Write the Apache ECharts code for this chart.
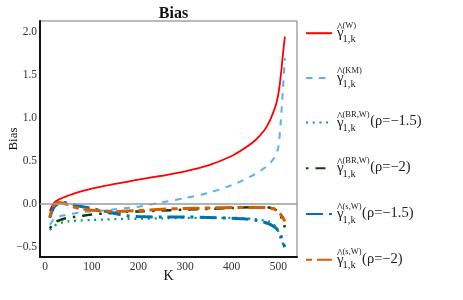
<!DOCTYPE html>
<html>
<head>
<meta charset="utf-8">
<script src="https://cdn.jsdelivr.net/npm/echarts@6/dist/echarts.min.js"></script>
<style>html,body{margin:0;padding:0;background:#fff;}#c{width:463px;height:300px;}</style>
</head>
<body>
<div id="c"></div>
<script>
// ---- data ----
var K = [10,15,20,25,30,40,50,60,75,100,125,150,175,200,250,300,350,400,425,450,470,480,490,495,500,505,510,514];
var biasW      = [-0.08,-0.02,0.02,0.04,0.055,0.08,0.10,0.12,0.145,0.18,0.21,0.235,0.26,0.285,0.33,0.38,0.45,0.56,0.64,0.74,0.86,0.95,1.08,1.16,1.28,1.48,1.75,1.95];
var biasKM     = [-0.24,-0.20,-0.17,-0.155,-0.145,-0.13,-0.12,-0.11,-0.095,-0.085,-0.075,-0.06,-0.045,-0.03,0.02,0.07,0.13,0.22,0.28,0.35,0.42,0.46,0.53,0.58,0.66,0.95,1.35,1.70];
var biasBR15   = [-0.30,-0.27,-0.25,-0.235,-0.225,-0.21,-0.20,-0.195,-0.19,-0.185,-0.18,-0.175,-0.17,-0.17,-0.165,-0.16,-0.16,-0.16,-0.165,-0.175,-0.19,-0.20,-0.235,-0.27,-0.32,-0.40,-0.46,-0.50];
var biasBR2    = [-0.28,-0.25,-0.22,-0.20,-0.19,-0.17,-0.16,-0.15,-0.14,-0.12,-0.11,-0.10,-0.09,-0.085,-0.075,-0.065,-0.055,-0.045,-0.04,-0.035,-0.035,-0.04,-0.05,-0.07,-0.10,-0.14,-0.20,-0.27];
var biasS15    = [-0.16,-0.08,-0.03,-0.005,0.01,0.02,0.01,-0.005,-0.025,-0.05,-0.08,-0.11,-0.135,-0.145,-0.15,-0.15,-0.155,-0.165,-0.17,-0.185,-0.21,-0.23,-0.26,-0.28,-0.31,-0.36,-0.45,-0.50];
var biasS2     = [-0.15,-0.06,-0.01,0.015,0.02,0.01,-0.01,-0.03,-0.05,-0.07,-0.08,-0.085,-0.08,-0.075,-0.06,-0.05,-0.045,-0.04,-0.04,-0.04,-0.04,-0.045,-0.055,-0.07,-0.09,-0.12,-0.16,-0.20];
var xTicks = [0,100,200,300,400,500];
var yTicks = [-0.5,0,0.5,1,1.5,2];
var seriesNames = ['W','KM','BRW15','BRW2','sW15','sW2'];
var supTexts = ['(W)','(KM)','(BR,W)','(BR,W)','(s,W)','(s,W)'];
var rhoTexts = ['','','(\u03C1=\u22121.5)','(\u03C1=\u22122)','(\u03C1=\u22121.5)','(\u03C1=\u22122)'];

function pairs(vals){ return K.map(function(k,i){ return [k, vals[i]]; }); }

var serif = '"Liberation Serif", "DejaVu Serif", serif';
var cv = document.createElement('canvas').getContext('2d');
function tw(t, size){ cv.font = size + 'px ' + serif; return cv.measureText(t).width; }

var TC = '#222';
var L1 = 8, L2 = 14;
var rich = {
  h:  {fontSize: 12, width: 5.5, lineHeight: L1, padding: [2.4, 0, 0, 0], fontFamily: serif, color: TC},
  sp: {fontSize: 8.5, lineHeight: L1, padding: [0, 0, 1, 0], fontFamily: serif, color: TC},
  g:  {fontSize: 15, width: 5.5, lineHeight: L2, padding: [0, 0, 8, 0], fontFamily: serif, color: TC},
  r:  {fontSize: 14.5, lineHeight: L2, padding: [0, 0, 10, 0], fontFamily: serif, color: TC}
};
supTexts.forEach(function(s, i){
  var w = Math.max(tw(s, 8.5), tw('1,k', 10.5)) + 0.5;
  rich['sb' + i] = {fontSize: 10.5, width: w, lineHeight: L2, padding: [4, 0, 0, 0], fontFamily: serif, color: TC};
});

var chart = echarts.init(document.getElementById('c'), null, {renderer: 'canvas'});
function mk(name, vals, color, width, dash){
  return {
    name: name, type: 'line', data: pairs(vals), smooth: 0.3,
    symbol: 'none', showSymbol: false,
    lineStyle: {color: color, width: width, type: dash, cap: 'butt'},
    itemStyle: {color: color},
    emphasis: {disabled: true}
  };
}
var s0 = mk('W', biasW, '#FF0000', 1.8, 'solid');
s0.markLine = {silent: true, symbol: 'none', label: {show: false},
  lineStyle: {color: '#9a9a9a', width: 1.5, type: 'solid'}, data: [{yAxis: 0}]};

var option = {
  animation: false,
  backgroundColor: '#fff',
  title: {text: 'Bias', left: 168.5, top: 1, textAlign: 'center',
    textStyle: {fontFamily: serif, fontSize: 16, fontWeight: 'bold', color: '#111'}},
  grid: {left: 40, top: 21, right: 166, bottom: 43, outerBoundsMode: 'none', containLabel: false,
    show: true, borderColor: '#777', borderWidth: 1, backgroundColor: 'transparent'},
  xAxis: {type: 'value', min: -11, max: 540,
    name: 'K', nameLocation: 'middle', nameGap: 12, nameMoveOverlap: false,
    nameTextStyle: {fontFamily: serif, fontSize: 14, color: '#111'},
    axisLine: {show: true, onZero: false, lineStyle: {color: '#111', width: 2}},
    axisTick: {show: false},
    splitLine: {show: false},
    axisLabel: {customValues: xTicks, margin: 4, fontFamily: serif, fontSize: 11.5, color: '#333',
      formatter: function(v){ return String(v); }}
  },
  yAxis: {type: 'value', min: -0.615, max: 2.13,
    name: 'Bias', nameLocation: 'middle', nameGap: 20, nameRotate: 90, nameMoveOverlap: false,
    nameTextStyle: {fontFamily: serif, fontSize: 13, color: '#111'},
    axisLine: {show: true, onZero: false, lineStyle: {color: '#111', width: 2}},
    axisTick: {show: false},
    splitLine: {show: false},
    axisLabel: {customValues: yTicks, margin: 3, fontFamily: serif, fontSize: 11.5, color: '#333',
      formatter: function(v){ return (v < 0 ? '\u2212' : '') + Math.abs(v).toFixed(1); }}
  },
  legend: {
    orient: 'vertical', left: 305, top: 19, height: 400, padding: 0,
    itemWidth: 26, itemHeight: 14, itemGap: 15,
    data: seriesNames, selectedMode: false,
    itemStyle: {opacity: 0},
    textStyle: {fontFamily: serif, color: TC, rich: rich},
    formatter: function(name){
      var i = seriesNames.indexOf(name);
      return '{h|^}{sp|' + supTexts[i] + '}\n{g|\u03B3}{sb' + i + '|1,k}' + (rhoTexts[i] ? '{r|' + rhoTexts[i] + '}' : '');
    }
  },
  series: [
    s0,
    mk('KM', biasKM, '#56B4E9', 2, [6.5, 6.5]),
    mk('BRW15', biasBR15, '#009E73', 2.3, [2, 4.7]),
    mk('BRW2', biasBR2, '#0B3D0B', 2.5, [2.5, 7, 10, 7]),
    mk('sW15', biasS15, '#0072B2', 3, [17, 6, 3, 6]),
    mk('sW2', biasS2, '#D55E00', 3, [6, 5, 17, 5])
  ]
};
chart.setOption(option);
</script>
</body>
</html>
